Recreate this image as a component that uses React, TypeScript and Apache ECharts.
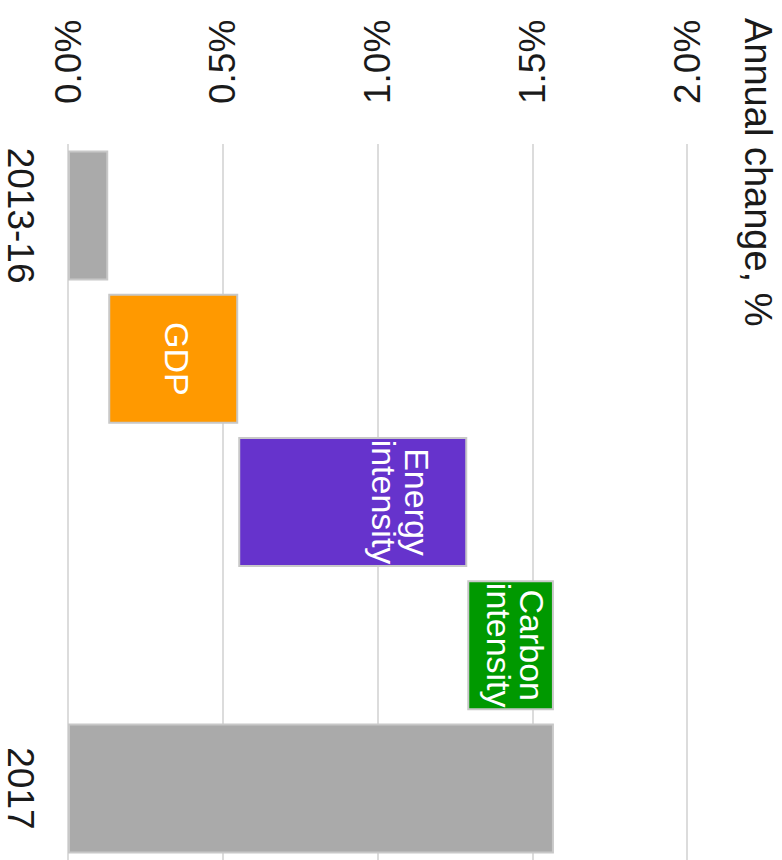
import React, { useEffect, useRef } from 'react';
import * as echarts from 'echarts';

// ---- data ----
const categories = ['2013-16', 'GDP', 'Energy\nintensity', 'Carbon\nintensity', '2017'];
const changes = [0.13, 0.42, 0.74, 0.28, 1.57];
const isTotal = [true, false, false, false, true];
const barColors = ['#aaaaaa', '#ff9900', '#6633cc', '#009900', '#aaaaaa'];
const valueTicks = [0, 0.5, 1.0, 1.5, 2.0];
const axisTitle = 'Annual change, %';

const FONT = "'Liberation Sans', Arial, Helvetica, sans-serif";

export default function App() {
  const ref = useRef<HTMLDivElement>(null);

  useEffect(() => {
    if (!ref.current) return;
    const chart = echarts.init(ref.current, undefined, { renderer: 'svg' });

    // waterfall bases built from the changes
    const bases: number[] = [];
    let running = 0;
    changes.forEach((v, i) => {
      if (isTotal[i]) {
        bases.push(0);
        running = v;
      } else {
        bases.push(running);
        running += v;
      }
    });

    const labelFrac = [0.5, 0.53, 0.71, 0.56, 0.5];

    const option: any = {
      animation: false,
      backgroundColor: '#ffffff',
      textStyle: { fontFamily: FONT },
      grid: { left: 68, right: 95, top: 144, bottom: -4, containLabel: false },
      xAxis: {
        type: 'value',
        position: 'top',
        min: valueTicks[0],
        max: valueTicks[valueTicks.length - 1],
        interval: valueTicks[1] - valueTicks[0],
        axisLine: { show: false },
        axisTick: { show: false },
        splitLine: { show: true, lineStyle: { color: '#dcdcdc', width: 2 } },
        axisLabel: {
          rotate: -90,
          margin: 40,
          fontSize: 37,
          fontFamily: FONT,
          color: '#1a1a1a',
          formatter: (v: number) => v.toFixed(1) + '%',
        },
      },
      yAxis: {
        type: 'category',
        inverse: true,
        data: categories,
        axisLine: { show: false },
        axisTick: { show: false },
        splitLine: { show: false },
        axisLabel: {
          rotate: -90,
          margin: 33,
          fontSize: 37,
          lineHeight: 30,
          fontFamily: FONT,
          color: '#1a1a1a',
          formatter: (v: string, i: number) => (isTotal[i] ? v : ''),
        },
      },
      graphic: [
        {
          type: 'text',
          x: 777,
          y: 18,
          rotation: -Math.PI / 2,
          style: {
            text: axisTitle,
            fontSize: 38,
            fontFamily: FONT,
            fill: '#1a1a1a',
            textAlign: 'left',
            textVerticalAlign: 'top',
          },
        },
      ],
      series: [
        {
          type: 'bar',
          stack: 'wf',
          barWidth: 130,
          silent: true,
          itemStyle: { color: 'transparent', borderWidth: 0 },
          data: bases,
        },
        {
          type: 'bar',
          stack: 'wf',
          barWidth: 130,
          itemStyle: { borderColor: '#c8c8c8', borderWidth: 2 },
          data: changes.map((v, i) => ({
            value: v,
            itemStyle: { color: barColors[i] },
            label: isTotal[i]
              ? { show: false }
              : {
                  show: true,
                  position: [labelFrac[i] * 100 + '%', '50%'],
                  rotate: -90,
                  align: 'center',
                  verticalAlign: 'middle',
                  color: '#ffffff',
                  fontSize: 34,
                  lineHeight: 33,
                  fontFamily: FONT,
                  formatter: () => categories[i],
                },
          })),
        },
      ],
    };

    chart.setOption(option);
    return () => chart.dispose();
  }, []);

  return (
    <div
      ref={ref}
      style={{ position: 'fixed', left: 0, top: 0, width: 782, height: 860, background: '#fff' }}
    />
  );
}
